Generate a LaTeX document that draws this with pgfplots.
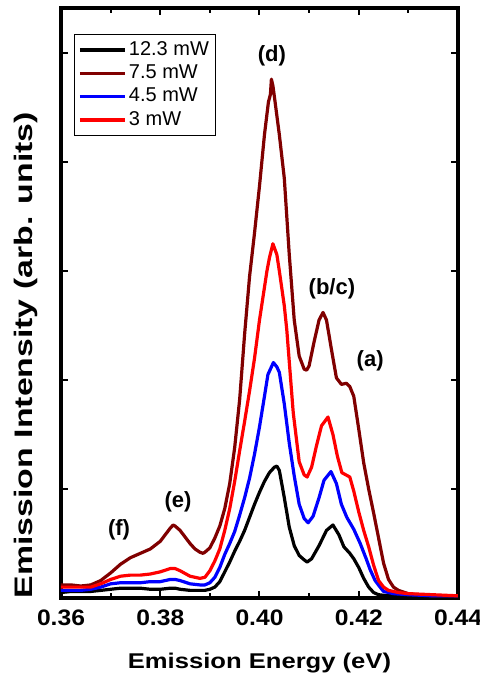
\documentclass[border=0pt]{standalone}
\usepackage{graphicx}
\usepackage{fontspec}
\setmainfont{Liberation Sans}
\usepackage{pgfplots}
\pgfplotsset{compat=1.18}

\definecolor{pw123}{RGB}{0,0,0}
\definecolor{pw75}{RGB}{128,0,0}
\definecolor{pw45}{RGB}{0,0,255}
\definecolor{pw30}{RGB}{255,0,0}

\begin{document}
\begin{tikzpicture}
\begin{axis}[
  name=ax,
  scale only axis,
  width=297.75pt, height=442.5pt,
  xmin=0.36, xmax=0.44, ymin=0, ymax=5.413,
  xtick={0.36,0.38,0.40,0.42,0.44},
  xticklabels={\scalebox{1.1}[1]{0.36},\scalebox{1.1}[1]{0.38},\scalebox{1.1}[1]{0.40},\scalebox{1.1}[1]{0.42},\scalebox{1.1}[1]{0.44}},
  minor xtick={0.37,0.39,0.41,0.43},
  ytick={1,2,3,4,5},
  yticklabels={},
  tick align=inside,
  major tick length=5pt,
  minor tick length=3.5pt,
  every tick/.style={black, line width=1.5pt},
  axis line style={line width=2.4pt},
  ticklabel style={font=\bfseries\fontsize{16.8}{19}\selectfont},
  xticklabel style={yshift=-5pt},
  xlabel={\scalebox{1.2}[1]{Emission Energy (eV)}},
  ylabel={\scalebox{1.335}[1]{Emission Intensity (arb. units)}},
  label style={font=\bfseries\fontsize{16}{18}\selectfont},
  xlabel style={at={(axis description cs:0.5,0)}, anchor=center, yshift=-48.5pt},
  ylabel style={at={(axis description cs:0,0.5)}, anchor=center, yshift=26.25pt, xshift=-39pt, font=\bfseries\fontsize{19}{22}\selectfont},
  legend style={at={(axis description cs:0,1)}, anchor=north west,
    xshift=9.75pt, yshift=-19.5pt, draw=black, line width=0.6pt,
    font=\fontsize{15}{17}\selectfont, row sep=0pt,
    inner xsep=3pt, inner ysep=3pt,
    nodes={text height=11pt, text depth=3.5pt, inner sep=1.5pt}},
  legend cell align=left,
  legend image code/.code={\draw[#1, line width=2.4pt] (0pt,0pt) -- (34pt,0pt);},
  every axis plot/.append style={line width=2.4pt, line join=round},
]

% 12.3 mW
\addplot[pw123] coordinates {
(0.360,0.05) (0.362,0.06) (0.364,0.06) (0.366,0.06) (0.368,0.07) (0.370,0.08)
(0.372,0.09) (0.374,0.09) (0.376,0.09) (0.378,0.08) (0.380,0.08) (0.382,0.09)
(0.383,0.09) (0.384,0.08) (0.386,0.07) (0.388,0.07) (0.389,0.07) (0.390,0.08)
(0.391,0.10) (0.392,0.15) (0.393,0.24) (0.394,0.33) (0.395,0.43) (0.396,0.52)
(0.397,0.62) (0.398,0.74) (0.399,0.86) (0.400,0.97) (0.401,1.07) (0.402,1.15)
(0.403,1.20) (0.4035,1.21) (0.404,1.17) (0.405,0.92) (0.406,0.65) (0.407,0.48)
(0.408,0.39) (0.409,0.35) (0.4096,0.33) (0.4105,0.36) (0.412,0.48) (0.4135,0.62)
(0.4148,0.67) (0.416,0.58) (0.417,0.47) (0.4182,0.41) (0.419,0.36) (0.420,0.28)
(0.421,0.18) (0.422,0.10) (0.423,0.05) (0.424,0.03) (0.426,0.02) (0.430,0.02)
(0.435,0.02) (0.440,0.02)
};
\addlegendentry{12.3 mW}

% 7.5 mW
\addplot[pw75] coordinates {
(0.360,0.12) (0.362,0.12) (0.364,0.11) (0.366,0.12) (0.368,0.16) (0.370,0.23)
(0.372,0.31) (0.374,0.37) (0.376,0.41) (0.378,0.45) (0.380,0.52) (0.381,0.58)
(0.382,0.64) (0.3826,0.67) (0.383,0.66) (0.384,0.62) (0.385,0.56) (0.386,0.50)
(0.387,0.45) (0.388,0.42) (0.3886,0.41) (0.389,0.42) (0.390,0.46) (0.391,0.55)
(0.392,0.66) (0.393,0.82) (0.394,1.05) (0.395,1.38) (0.396,1.82) (0.397,2.42)
(0.398,2.95) (0.399,3.35) (0.400,3.78) (0.401,4.25) (0.4018,4.55) (0.4022,4.62)
(0.4024,4.76) (0.4027,4.70) (0.4030,4.60) (0.404,4.25) (0.405,3.85) (0.406,3.15)
(0.407,2.55) (0.408,2.22) (0.409,2.10) (0.4095,2.09) (0.410,2.13) (0.411,2.35)
(0.412,2.55) (0.4128,2.62) (0.4135,2.55) (0.4145,2.28) (0.4155,2.02) (0.4165,1.96)
(0.4175,1.97) (0.4182,1.94) (0.419,1.85) (0.420,1.55) (0.421,1.24) (0.422,1.00)
(0.423,0.78) (0.424,0.55) (0.425,0.32) (0.426,0.17) (0.427,0.10) (0.428,0.07)
(0.430,0.04) (0.432,0.03) (0.435,0.02) (0.440,0.02)
};
\addlegendentry{7.5 mW}

% 4.5 mW
\addplot[pw45] coordinates {
(0.360,0.07) (0.362,0.07) (0.364,0.07) (0.366,0.08) (0.368,0.10) (0.370,0.13)
(0.372,0.14) (0.374,0.14) (0.376,0.14) (0.378,0.15) (0.380,0.15) (0.382,0.17)
(0.383,0.17) (0.384,0.16) (0.386,0.13) (0.388,0.12) (0.389,0.12) (0.390,0.14)
(0.391,0.19) (0.392,0.28) (0.393,0.40) (0.394,0.50) (0.395,0.61) (0.396,0.76)
(0.397,0.92) (0.398,1.10) (0.399,1.32) (0.400,1.57) (0.401,1.85) (0.4017,2.05)
(0.4028,2.16) (0.4035,2.12) (0.404,2.07) (0.405,1.78) (0.406,1.42) (0.407,1.12)
(0.408,0.86) (0.409,0.73) (0.4098,0.69) (0.4108,0.75) (0.412,0.92) (0.413,1.08)
(0.4144,1.16) (0.4155,1.05) (0.4165,0.86) (0.4176,0.74) (0.419,0.63) (0.4203,0.50)
(0.4215,0.36) (0.4223,0.26) (0.4233,0.16) (0.4243,0.10) (0.425,0.06) (0.427,0.04)
(0.430,0.03) (0.435,0.02) (0.440,0.02)
};
\addlegendentry{4.5 mW}

% 3 mW
\addplot[pw30] coordinates {
(0.360,0.10) (0.362,0.10) (0.364,0.10) (0.366,0.10) (0.368,0.13) (0.370,0.17)
(0.372,0.20) (0.374,0.21) (0.376,0.21) (0.378,0.22) (0.380,0.24) (0.382,0.27)
(0.383,0.27) (0.384,0.25) (0.386,0.20) (0.388,0.18) (0.389,0.19) (0.390,0.25)
(0.391,0.34) (0.392,0.45) (0.393,0.62) (0.394,0.82) (0.395,1.07) (0.396,1.35)
(0.397,1.62) (0.398,1.90) (0.399,2.20) (0.400,2.55) (0.401,2.85) (0.4015,3.00)
(0.402,3.12) (0.4027,3.25) (0.4035,3.15) (0.404,3.00) (0.405,2.68) (0.4055,2.46)
(0.4068,1.70) (0.408,1.25) (0.409,1.13) (0.4096,1.11) (0.4105,1.20) (0.4115,1.40)
(0.4125,1.58) (0.4138,1.66) (0.4148,1.50) (0.4157,1.30) (0.4166,1.15) (0.4182,1.11)
(0.419,0.98) (0.420,0.79) (0.421,0.62) (0.422,0.47) (0.423,0.30) (0.424,0.16)
(0.425,0.10) (0.426,0.07) (0.428,0.05) (0.430,0.04) (0.435,0.03) (0.440,0.02)
};
\addlegendentry{3 mW}

\begin{scope}[font=\bfseries\fontsize{16.5}{19}\selectfont]
\node at (axis cs:0.4025,4.97) {(d)};
\node at (axis cs:0.4146,2.84) {(b/c)};
\node at (axis cs:0.4223,2.18) {(a)};
\node at (axis cs:0.3836,0.88) {(e)};
\node at (axis cs:0.3717,0.63) {(f)};
\end{scope}
\end{axis}
\pgfresetboundingbox
\path[use as bounding box] ([shift={(-45.75pt,-60.75pt)}]ax.south west) rectangle ([shift={(16.5pt,6pt)}]ax.north east);
\end{tikzpicture}
\end{document}
